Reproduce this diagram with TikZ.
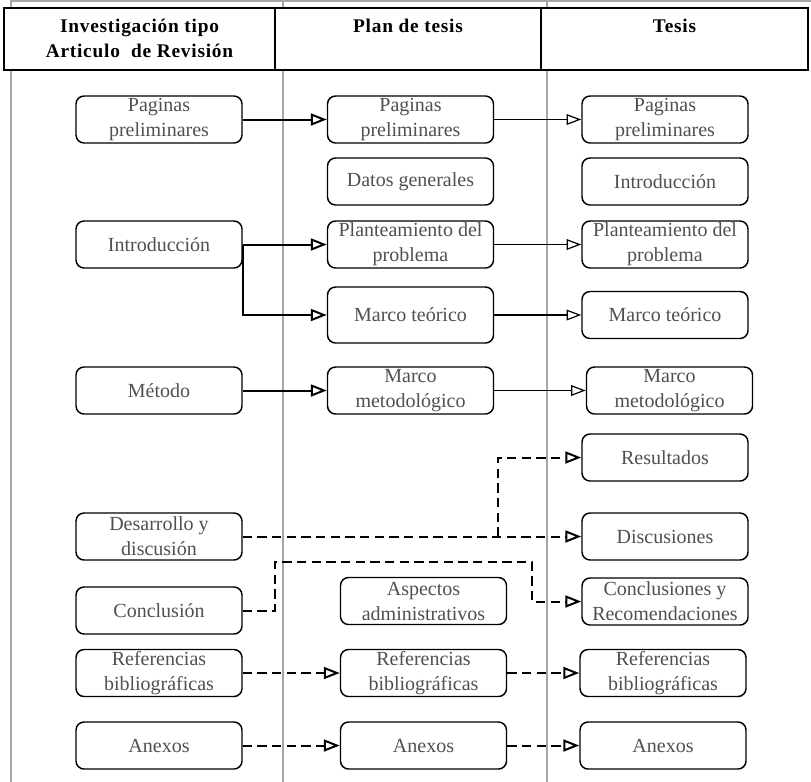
\documentclass[tikz,border=0pt]{standalone}
\usepackage{fontspec}
\setmainfont{Liberation Serif}
\newfontfamily\headfont[LetterSpace=4]{Liberation Serif}
\usetikzlibrary{arrows.meta}
\definecolor{boxgray}{RGB}{80,80,80}

\begin{document}
\begin{tikzpicture}[x=0.75pt,y=-0.75pt,
  >={Triangle[open,length=12pt,width=9pt]},
  box node/.style={draw,rounded corners=6pt,line width=1.1pt,fill=white,
    minimum width=124.5pt,minimum height=35.25pt,inner sep=1pt,align=center,
    text=boxgray,font=\fontsize{15}{18.75}\selectfont},
  head node/.style={anchor=north,align=center,font=\headfont\bfseries\fontsize{14.5}{18.75}\selectfont},
  rule line/.style={draw=black!35,line width=0.8pt},
  full link/.style={->,line width=1.5pt},
  thin link/.style={->,line width=0.9pt,>={Triangle[open,length=11pt,width=8pt]}},
  dash link/.style={->,line width=1.5pt,dash pattern=on 7pt off 4pt}]

  \useasboundingbox (0,0) rectangle (811,782);

  % table lines behind
  \draw[rule line] (11,1) -- (811,1);
  \draw[rule line] (11,0) -- (11,782);
  \draw[rule line] (283,0) -- (283,782);
  \draw[rule line] (547,0) -- (547,782);

  % header
  \draw[fill=white,line width=1.1pt] (4,8) rectangle (808,70);
  \draw[line width=1.1pt] (275,8) -- (275,70);
  \draw[line width=1.1pt] (541,8) -- (541,70);
  \node[head node] (hd1) at (139.5,14) {Investigación tipo\\Articulo~ de Revisión};
  \node[head node] (hd2) at (408,14) {Plan de tesis};
  \node[head node] (hd3) at (674.5,14) {Tesis};

  % first column
  \node[box node] (pag1) at (159,119.5) {Paginas\\preliminares};
  \node[box node] (int1) at (159,244.5) {Introducción};
  \node[box node] (met1) at (159,390.5) {Método};
  \node[box node] (des1) at (159,536.5) {Desarrollo y\\discusión};
  \node[box node] (con1) at (159,610.5) {Conclusión};
  \node[box node] (ref1) at (159,673) {Referencias\\bibliográficas};
  \node[box node] (anx1) at (159,745.5) {Anexos};

  % second column
  \node[box node] (pag2) at (410.5,119.5) {Paginas\\preliminares};
  \node[box node] (dat2) at (410.5,181.5) {Datos generales};
  \node[box node] (pla2) at (410.5,244.5) {Planteamiento del\\problema};
  \node[box node,minimum height=42pt] (mte2) at (410.5,315) {Marco teórico};
  \node[box node] (mme2) at (410.5,390.5) {Marco\\metodológico};
  \node[box node] (asp2) at (423.5,601) {Aspectos\\administrativos};
  \node[box node] (ref2) at (423.5,673) {Referencias\\bibliográficas};
  \node[box node] (anx2) at (423.5,745.5) {Anexos};

  % third column
  \node[box node] (pag3) at (665,119.5) {Paginas\\preliminares};
  \node[box node] (int3) at (665,181.5) {Introducción};
  \node[box node] (pla3) at (665,244.5) {Planteamiento del\\problema};
  \node[box node] (mte3) at (665,315) {Marco teórico};
  \node[box node] (mme3) at (669.5,390.5) {Marco\\metodológico};
  \node[box node] (res3) at (665,457.5) {Resultados};
  \node[box node] (dis3) at (665,536.5) {Discusiones};
  \node[box node] (cyr3) at (665,601.5) {Conclusiones y\\Recomendaciones};
  \node[box node] (ref3) at (663,673) {Referencias\\bibliográficas};
  \node[box node] (anx3) at (663,745.5) {Anexos};

  \coordinate (split) at (498,536.5);
  \coordinate (bendA) at (275,562);
  \coordinate (bendB) at (532,562);

  \path (pag1) edge[full link] (pag2)
        (pag2) edge[thin link] (pag3)
        (int1) edge[full link] (pla2)
        (pla2) edge[thin link] (pla3)
        (mte2) edge[thin link] (mte3)
        (met1) edge[full link] (mme2)
        (mme2) edge[thin link] (mme3);
  \draw[full link] (int1.east) |- (mte2);

  \path (des1) edge[dash link] (dis3)
        (ref1) edge[dash link] (ref2)
        (ref2) edge[dash link] (ref3)
        (anx1) edge[dash link] (anx2)
        (anx2) edge[dash link] (anx3);
  \draw[dash link] (split) |- (res3);
  \draw[dash link] (con1.east) -| (bendA) -- (bendB) |- (cyr3);
\end{tikzpicture}
\end{document}
